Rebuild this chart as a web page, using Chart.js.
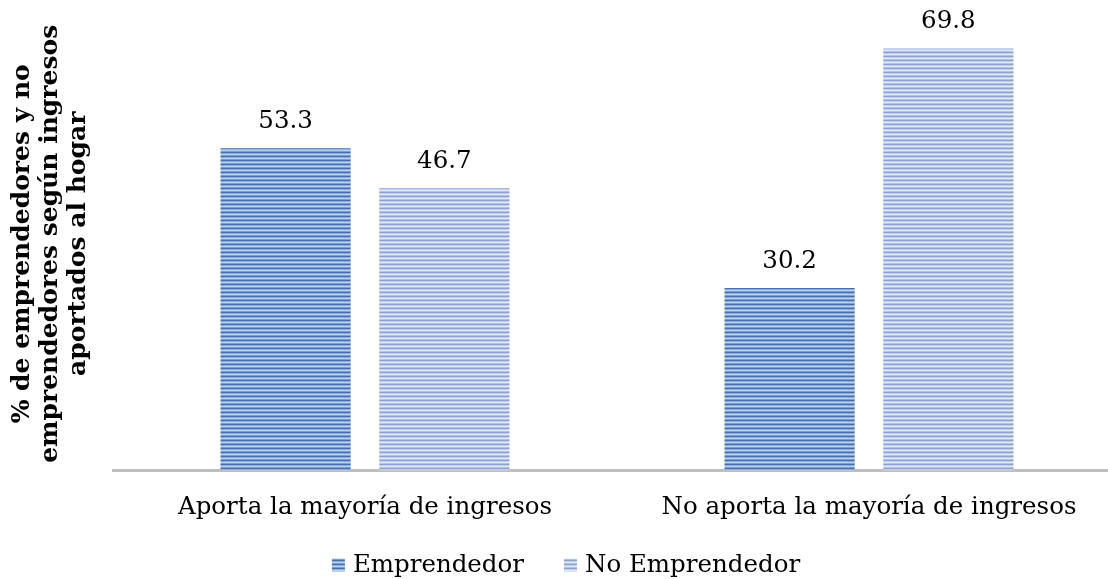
<!DOCTYPE html>
<html>
<head>
<meta charset="utf-8">
<script src="https://cdn.jsdelivr.net/npm/chart.js@4.4.0/dist/chart.umd.min.js"></script>
<style>
  html, body { margin: 0; padding: 0; background: #fff; overflow: hidden; }
  #wrap { width: 1121px; height: 579px; }
</style>
</head>
<body>
<div id="wrap"><canvas id="grafico"></canvas></div>
<script>
var categorias = ['Aporta la mayoría de ingresos', 'No aporta la mayoría de ingresos'];
var emprendedor = [53.3, 30.2];
var noEmprendedor = [46.7, 69.8];
var series = ['Emprendedor', 'No Emprendedor'];
var tituloY = ['% de emprendedores y no', 'emprendedores según ingresos', 'aportados al hogar'];

var fuente = "'DejaVu Serif', 'Liberation Serif', serif";
var tam = 24.5;

// rayas horizontales como en el original
function rayas(colores) {
    var c = document.createElement('canvas');
    c.width = 4;
    c.height = colores.length;
    var g = c.getContext('2d');
    for (var i = 0; i < colores.length; i++) {
        g.fillStyle = colores[i];
        g.fillRect(0, i, 4, 1);
    }
    return g.createPattern(c, 'repeat');
}

var rayaOscura = rayas(['#476fae', '#8fb0dc', '#b9d0ee', '#7c9fd0']);
var rayaClara = rayas(['#8da2d2', '#c2d0ec', '#e2e9f6', '#b1c2e5']);

var etiquetas = {
    id: 'etiquetas',
    afterDatasetsDraw(chart) {
        var ctx = chart.ctx;
        ctx.save();
        ctx.font = tam + 'px ' + fuente;
        ctx.fillStyle = '#000';
        ctx.textAlign = 'center';
        ctx.textBaseline = 'alphabetic';
        chart.data.datasets.forEach((ds, i) => {
            chart.getDatasetMeta(i).data.forEach((bar, j) => {
                ctx.fillText(ds.data[j].toFixed(1), bar.x, bar.y - 20);
            });
        });
        ctx.restore();
    }
};

// leyenda abajo, dibujada a mano para poder separar los items
var leyenda = {
    id: 'leyenda',
    afterDraw(chart) {
        var ctx = chart.ctx;
        var caja = 13, hueco = 8, sep = 40, yc = 565, centro = 566;
        ctx.save();
        ctx.font = tam + 'px ' + fuente;
        ctx.textBaseline = 'middle';
        ctx.textAlign = 'left';
        var anchos = chart.data.datasets.map(ds => caja + hueco + ctx.measureText(ds.label).width);
        var total = anchos.reduce((a, b) => a + b, 0) + sep * (anchos.length - 1);
        var x = centro - total / 2;
        chart.data.datasets.forEach((ds, i) => {
            ctx.fillStyle = ds.backgroundColor;
            ctx.fillRect(x, yc - caja / 2, caja, caja);
            ctx.fillStyle = '#000';
            ctx.fillText(ds.label, x + caja + hueco, yc + 1);
            x += anchos[i] + sep;
        });
        ctx.restore();
    }
};

const grafico = new Chart(document.getElementById('grafico').getContext('2d'), {
    type: 'bar',
    data: {
        labels: categorias,
        datasets: [{
            label: series[0],
            data: emprendedor,
            backgroundColor: rayaOscura,
            borderWidth: 0
        }, {
            label: series[1],
            data: noEmprendedor,
            backgroundColor: rayaClara,
            borderWidth: 0
        }]
    },
    options: {
        responsive: true,
        maintainAspectRatio: false,
        animation: false,
        categoryPercentage: 0.63,
        barPercentage: 0.82,
        layout: { padding: { left: 8, right: 0, top: 17, bottom: 35 } },
        plugins: {
            legend: { display: false },
            tooltip: { enabled: false }
        },
        scales: {
            x: {
                grid: { display: false, drawTicks: false },
                border: { display: true, color: '#bfbfbf', width: 3 },
                ticks: { color: '#000', padding: 22, font: { family: fuente, size: tam } }
            },
            y: {
                min: 0,
                max: 75,
                grid: { display: false, drawTicks: false },
                border: { display: false },
                ticks: { display: false },
                title: {
                    display: true,
                    text: tituloY,
                    color: '#000',
                    font: { family: fuente, size: 25, weight: 'bold', lineHeight: 1.12 },
                    padding: { top: 0, bottom: 21 }
                }
            }
        }
    },
    plugins: [etiquetas, leyenda]
});
</script>
</body>
</html>
